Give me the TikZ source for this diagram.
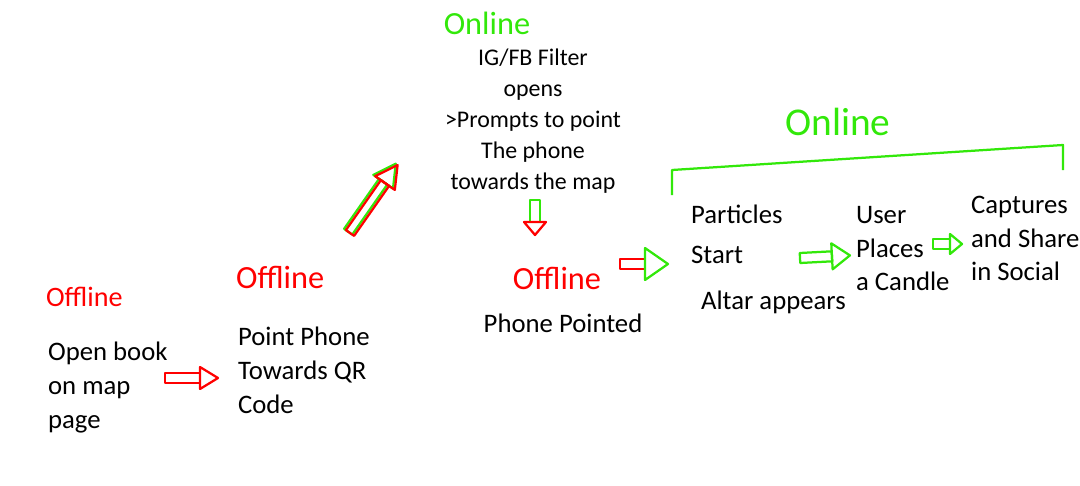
\documentclass[tikz,border=0pt]{standalone}
\usepackage{fontspec}
\setmainfont{Carlito}
\usepackage{tikz}
\tikzset{x=.025cm,y=-.025cm}
\usetikzlibrary{positioning, calc}
\definecolor{offred}{RGB}{255,0,0}
\definecolor{ongreen}{RGB}{50,232,10}
\def\hand{\fontsize{19}{24}\selectfont}
\def\tagfont{\fontsize{23}{26}\selectfont}
\tikzset{
  note/.style={font=\hand, align=left, inner sep=0pt},
  offtag/.style={text=offred, font=\tagfont, inner sep=0pt},
  ontag/.style={text=ongreen, font=\tagfont, inner sep=0pt},
  % length / head length / head half width / shaft colour / head colour
  pics/hollow arrow/.style args={#1/#2/#3/#4/#5}{code={
    \draw[#4] (0,-5) -- (#1-#2,-5) -- (#1-#2,5) -- (0,5) -- cycle;
    \draw[#5] (#1-#2,-#3) -- (#1,0) -- (#1-#2,#3) -- cycle;
  }},
}

\begin{document}
\begin{tikzpicture}[line width=1.6pt, line join=round]
\useasboundingbox (0,0) rectangle (1080,486);

% offline steps
\node[note, anchor=north west] (book) at (47,341) {Open book\\on map\\page};
\node[offtag, font=\fontsize{20}{22}\selectfont, above right=.82cm and -.05cm of book.north west] (booktag) {Offline};
\node[note, anchor=north west] (point) at (237,326) {Point Phone\\Towards QR\\Code};
\node[offtag, above right=.9cm and -.05cm of point.north west] (pointtag) {Offline};

% filter
\node[note, font=\fontsize{17}{22}\selectfont, align=center, anchor=north] (filter) at (533,48)
  {IG/FB Filter\\opens\\>Prompts to point\\The phone\\towards the map};
\node[ontag, above=.3cm of filter.north, xshift=-1.15cm] (filtertag) {Online};

\node[offtag] (pointedtag) at (557,278) {Offline};
\node[note, below=.55cm of pointedtag, xshift=.15cm] (pointed) {Phone Pointed};

% online steps
\node[note, anchor=north west] (particles) at (690,204) {Particles\\[4pt]Start};
\node[note, anchor=west] (altar) at (700,302) {Altar appears};
\node[note, anchor=north west] (candle) at (855,205) {User\\Places\\a Candle};
\node[note, anchor=north west] (share) at (970,195) {Captures\\and Share\\in Social};

\coordinate (bl) at (672,195);
\coordinate (br) at (1063,170);
\draw[ongreen] (bl) -- ++(0,-25) -- ($(br)+(0,-25)$) -- (br);
\node[ontag, font=\fontsize{28}{30}\selectfont] (onlinetag) at (838,122) {Online};

% arrows
\coordinate (a1) at (165,378);
\coordinate (a2) at (350,233);
\coordinate (a3) at (535,200);
\coordinate (a4) at (620,264);
\coordinate (a5) at (800,258);
\coordinate (a6) at (933,244);
\pic at (a1) {hollow arrow=53/18/11/offred/offred};
\pic[rotate=55, yshift=1.6pt] at (a2) {hollow arrow=83/22/12/ongreen/ongreen};
\pic[rotate=55] at (a2) {hollow arrow=83/22/12/offred/offred};
\pic[rotate=-90] at (a3) {hollow arrow=35/13/11/ongreen/offred};
\pic at (a4) {hollow arrow=48/23/16/offred/ongreen};
\pic[rotate=3] at (a5) {hollow arrow=50/18/13/ongreen/ongreen};
\pic at (a6) {hollow arrow=29/12/10/ongreen/ongreen};
\end{tikzpicture}
\end{document}
